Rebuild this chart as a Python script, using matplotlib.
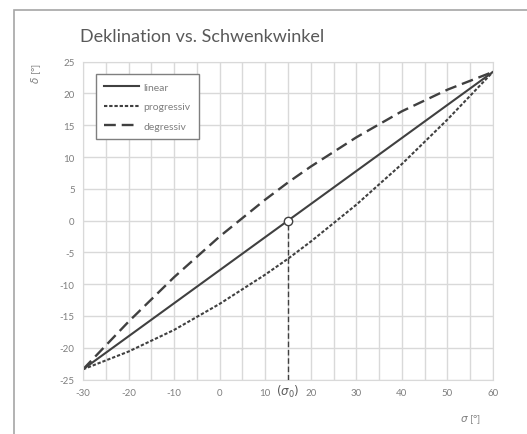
import matplotlib
matplotlib.use('Agg')
import matplotlib.pyplot as plt
from matplotlib.patches import Rectangle

plt.rcParams['font.family'] = ['Lato', 'DejaVu Sans']
plt.rcParams['axes.unicode_minus'] = False

# Werte
sigma = [-30, -20, -10, 0, 10, 15, 20, 30, 40, 50, 60]
linear = [-23.4, -18.2, -13.0, -7.8, -2.6, 0.0, 2.6, 7.8, 13.0, 18.2, 23.4]
progressiv = [-23.4, -20.6, -17.2, -13.1, -8.5, -6.0, -3.3, 2.5, 8.9, 15.9, 23.4]
degressiv = [-23.4, -15.9, -8.9, -2.5, 3.3, 6.0, 8.5, 13.1, 17.2, 20.6, 23.4]
sigma0 = 15
delta0 = 0
xticks = [-30, -20, -10, 0, 10, 20, 30, 40, 50, 60]
yticks = [-25, -20, -15, -10, -5, 0, 5, 10, 15, 20, 25]

grau = '#7f7f7f'
dunkel = '#404040'

fig = plt.figure(figsize=(5.27, 4.35), dpi=100)
fig.patches.append(Rectangle((14/527, -0.05), 1.2, 1 - 11/435 + 0.05, transform=fig.transFigure,
                             fill=False, edgecolor='#a6a6a6', linewidth=1.2))
ax = fig.add_axes([83/527, 54.5/435, 410/527, 317.8/435])

ax.plot(sigma, linear, color=dunkel, lw=1.5, label='linear')
ax.plot(sigma, progressiv, color=dunkel, lw=1.5, dashes=(1.6, 0.9), label='progressiv')
ax.plot(sigma, degressiv, color=dunkel, lw=1.7, dashes=(5, 2.5), label='degressiv')
ax.plot([sigma0, sigma0], [-25, delta0], color=dunkel, lw=1.0, dashes=(4, 2), zorder=3)
ax.plot([sigma0], [delta0], 'o', ms=6, mfc='white', mec=dunkel, mew=1.0, zorder=4)

ax.set_xlim(-30, 60)
ax.set_ylim(-25, 25)
ax.set_xticks(xticks)
ax.set_yticks(yticks)
ax.set_xticks(range(-25, 60, 10), minor=True)
ax.grid(True, which='both', color='#d9d9d9', lw=1.0)
ax.set_axisbelow(True)
for s in ax.spines.values():
    s.set_color('#d9d9d9')
ax.tick_params(which='both', length=0, labelsize=7, labelcolor=grau, pad=6)

ax.text(sigma0, -25.6, r'$(\sigma_0)$', ha='center', va='top', fontsize=8.5, color='#595959',
        family='DejaVu Sans', zorder=5)

fig.text(80/527, 1 - 37/435, 'Deklination vs. Schwenkwinkel', fontsize=13, color='#595959',
         va='center', ha='left')
fig.text(36/527, 1 - 74/435, r'$\delta$ [°]', rotation=90, fontsize=7.5, color=grau,
         ha='center', va='center')
fig.text(470/527, 1 - 420/435, r'$\sigma$ [°]', fontsize=7.5, color=grau, ha='center', va='center')

leg = ax.legend(loc='upper left', bbox_to_anchor=(12.7/410, 1 - 12.3/317.8), fontsize=7.5,
                frameon=True, fancybox=False, edgecolor='#7f7f7f', framealpha=1,
                handlelength=3.4, handletextpad=0.4, labelspacing=1.0, borderpad=0.8,
                borderaxespad=0)
leg.get_frame().set_linewidth(1.0)
for t in leg.get_texts():
    t.set_color(grau)

fig.savefig('out.png', dpi=100)
